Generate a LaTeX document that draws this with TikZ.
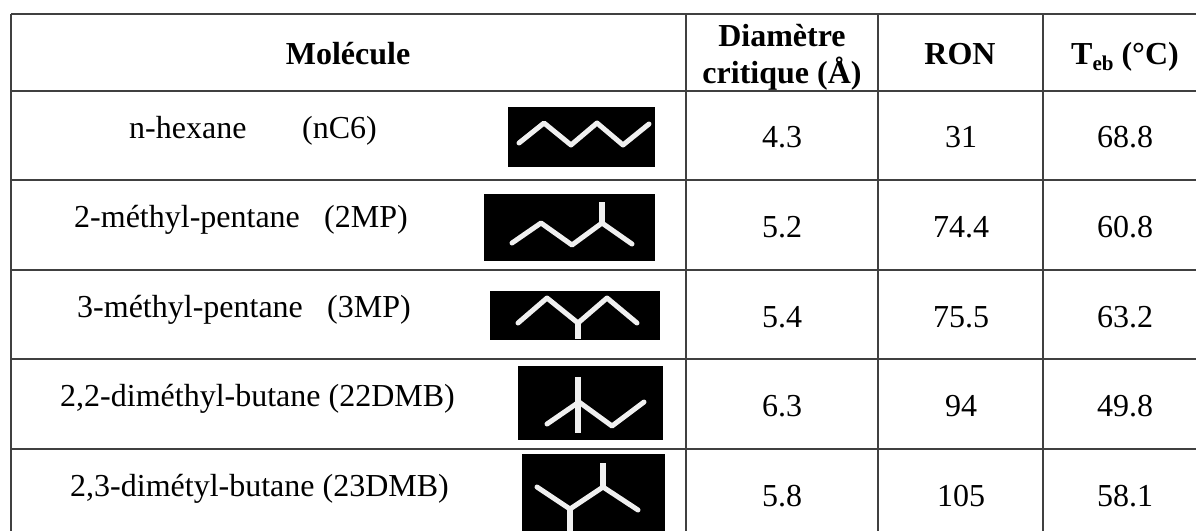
\documentclass[tikz,border=0pt]{standalone}
\usepackage{fontspec}
\setmainfont{Liberation Serif}
\tikzset{
  x=1pt,y=-1pt,
  rule/.style={draw=black!75,line width=1.5pt},
  cell/.style={anchor=base,inner sep=0pt,font=\fontsize{32}{38}\selectfont},
  head/.style={anchor=base,inner sep=0pt,font=\fontsize{32}{38}\selectfont\bfseries},
  lab/.style={anchor=base west,inner sep=0pt,font=\fontsize{32}{38}\selectfont},
  panel/.style={fill=black,draw=none},
  bond/.style={draw=white!94!black,line width=5pt,line cap=round,line join=round},
  stem/.style={draw=white!94!black,line width=6pt,line cap=butt}
}
\begin{document}
\begin{tikzpicture}
\useasboundingbox (0,0) rectangle (1196,531);
\fill[white] (0,0) rectangle (1196,531);
% table rules
\foreach \yy in {14,91,180,270,359,449} \draw[rule] (11,\yy) -- (1196,\yy);
\foreach \xx in {11,686,878,1043} \draw[rule] (\xx,14) -- (\xx,531);
% header
\node[head] (h1) at (348,64) {Molécule};
\node[head] (h2a) at (782,46) {Diamètre};
\node[head] (h2b) at (782,83) {critique (Å)};
\node[head] (h3) at (960,64) {RON};
\node[head] (h4) at (1125,64) {T\raisebox{-6pt}{\fontsize{21}{24}\selectfont eb} (°C)};
% names
\node[lab] (n1a) at (129,138) {n-hexane};
\node[lab] (n1b) at (302,138) {(nC6)};
\node[lab] (n2a) at (74,227) {2-méthyl-pentane};
\node[lab] (n2b) at (324,227) {(2MP)};
\node[lab] (n3a) at (77,317) {3-méthyl-pentane};
\node[lab] (n3b) at (327,317) {(3MP)};
\node[lab] (n4) at (60,406) {2,2-diméthyl-butane (22DMB)};
\node[lab] (n5) at (70,496) {2,3-dimétyl-butane (23DMB)};
% values
\node[cell] (a1) at (782,147) {4.3};
\node[cell] (b1) at (961,147) {31};
\node[cell] (c1) at (1125,147) {68.8};
\node[cell] (a2) at (782,237) {5.2};
\node[cell] (b2) at (961,237) {74.4};
\node[cell] (c2) at (1125,237) {60.8};
\node[cell] (a3) at (782,327) {5.4};
\node[cell] (b3) at (961,327) {75.5};
\node[cell] (c3) at (1125,327) {63.2};
\node[cell] (a4) at (782,416) {6.3};
\node[cell] (b4) at (961,416) {94};
\node[cell] (c4) at (1125,416) {49.8};
\node[cell] (a5) at (782,506) {5.8};
\node[cell] (b5) at (961,506) {105};
\node[cell] (c5) at (1125,506) {58.1};
% molecule 1
\fill[panel] (508,107) rectangle (655,167);
\draw[bond] (519,143) -- (544,123) -- (571,145) -- (597,123) -- (623,145) -- (649,124);
% molecule 2
\fill[panel] (484,194) rectangle (655,261);
\draw[bond] (512,243) -- (541,223) -- (572,245) -- (602,223) -- (632,244);
\draw[stem] (602,223) -- (602,202);
% molecule 3
\fill[panel] (490,291) rectangle (660,340);
\draw[bond] (518,323) -- (547,298) -- (578,323) -- (607,298) -- (637,323);
\draw[stem] (578,323) -- (578,339);
% molecule 4
\fill[panel] (518,366) rectangle (663,440);
\draw[bond] (547,424) -- (579,402) -- (612,426) -- (644,402);
\draw[stem] (578,377) -- (578,433);
% molecule 5
\fill[panel] (522,454) rectangle (665,531);
\draw[bond] (537,487) -- (570,509) -- (603,487) -- (638,510);
\draw[stem] (603,487) -- (603,463);
\draw[stem] (570,509) -- (570,531);
\end{tikzpicture}
\end{document}
